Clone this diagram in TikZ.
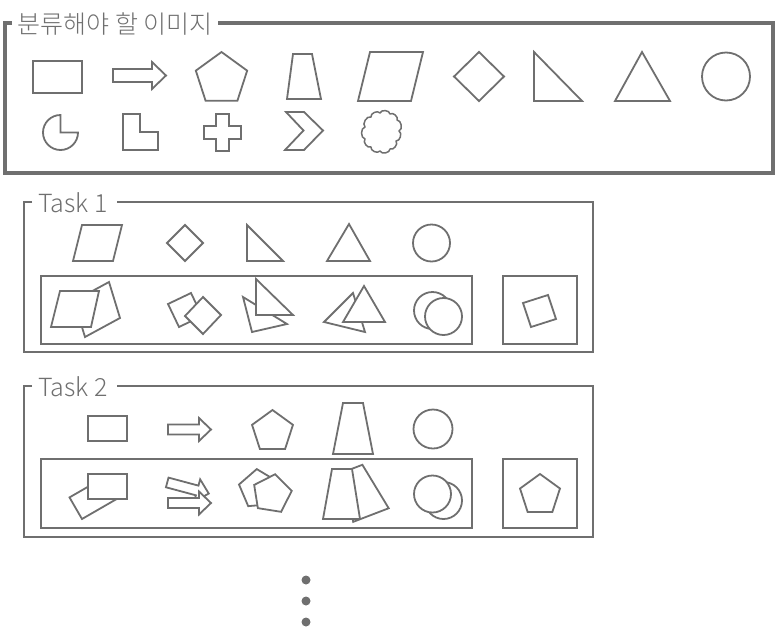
\documentclass[tikz,border=0pt]{standalone}
\usepackage{fontspec}
\setmainfont{Noto Sans CJK KR Light}
\usetikzlibrary{shapes.geometric}
\definecolor{lc}{HTML}{6F6F6F}
\begin{document}
\begin{tikzpicture}[x=1pt,y=-1pt,line join=miter,
  shp/.style={draw=lc,line width=1.8pt,fill=white},
  bigframe/.style={draw=lc,line width=3.4pt},
  taskframe/.style={draw=lc,line width=2pt},
  innerbox/.style={draw=lc,line width=2pt},
  lbl/.style={text=lc,inner sep=0pt,font=\fontsize{25}{30}\selectfont},
  pics/pent/.style={code={\draw[shp] (90:#1pt) -- (18:#1pt) -- (-54:#1pt) -- (-126:#1pt) -- (162:#1pt) -- cycle;}},
  pics/arrowshape/.style={code={\draw[shp] (-21.5,-5) -- (9.5,-5) -- (9.5,-11.5) -- (21.5,0) -- (9.5,11.5) -- (9.5,5) -- (-21.5,5) -- cycle;}},
  pics/trap/.style={code={\draw[shp] (-10,-25) -- (10,-25) -- (19,25) -- (-19,25) -- cycle;}}]
\useasboundingbox (0,0) rectangle (776,627);

% ---------- main frame ----------
\draw[bigframe] (12,23) -- (5,23) -- (5,173) -- (773,173) -- (773,23) -- (218,23);
\node[lbl,anchor=west] (lab0) at (17.5,24) {분류해야 할 이미지};

% row 1
\draw[shp] (33,61) rectangle (82,93);
\draw[shp] (113,69) -- (152,69) -- (152,62) -- (166,75.5) -- (152,89) -- (152,82) -- (113,82) -- cycle;
\pic at (221.5,79) {pent=27};
\draw[shp] (293,54) -- (312,54) -- (321,99) -- (287,99) -- cycle;
\draw[shp] (370,52) -- (423,52) -- (411,101) -- (358,101) -- cycle;
\draw[shp] (479,52) -- (504,76.5) -- (479,101) -- (454,76.5) -- cycle;
\draw[shp] (534,52) -- (534,101) -- (582,101) -- cycle;
\draw[shp] (642,52) -- (670,101) -- (615,101) -- cycle;
\draw[shp] (726,76.5) circle[radius=24pt];

% row 2
\draw[shp] (60.5,132.5) -- ++(17.5,0) arc[start angle=0,end angle=-270,radius=17.5pt] -- cycle;
\draw[shp] (123,114) -- (140,114) -- (140,132) -- (158,132) -- (158,150) -- (123,150) -- cycle;
\draw[shp] (216,114) -- (229,114) -- (229,126) -- (241,126) -- (241,139) -- (229,139) -- (229,151) -- (216,151) -- (216,139) -- (204,139) -- (204,126) -- (216,126) -- cycle;
\draw[shp] (286,112) -- (304,112) -- (323,130.5) -- (304,150) -- (285,150) -- (303.5,130.5) -- cycle;
% cloud
\draw[shp,line width=1.5pt,line join=round] (380,113) to[bend left=80] (390,114) to[bend left=80] (397,120)
  to[bend left=80] (399,131) to[bend left=80] (396,141) to[bend left=80] (390,149)
  to[bend left=80] (380,151) to[bend left=80] (371,147) to[bend left=80] (365,139)
  to[bend left=80] (365,127) to[bend left=80] (371,117) to[bend left=80] cycle;

% ---------- Task 1 ----------
\draw[taskframe] (32,202) -- (24,202) -- (24,352) -- (593,352) -- (593,202) -- (117,202);
\node[lbl,anchor=base west] (t1) at (38,212.5) {Task 1};

\draw[shp] (82,225) -- (122,225) -- (113,261) -- (73,261) -- cycle;
\draw[shp] (185,225) -- (203,243) -- (185,261) -- (167,243) -- cycle;
\draw[shp] (247,225) -- (247,261) -- (283,261) -- cycle;
\draw[shp] (349,224) -- (370,261) -- (327,261) -- cycle;
\draw[shp] (431.5,243) circle[radius=18.5pt];

\draw[innerbox] (41,276) rectangle (472,344);
\draw[innerbox] (503,276) rectangle (577,344);

\draw[shp] (109,282) -- (120,318) -- (85,337) -- (74,301) -- cycle;
\draw[shp] (60,291) -- (99,291) -- (91,327) -- (51,327) -- cycle;
\draw[shp] (168,304) -- (191,293) -- (202,316) -- (179,327) -- cycle;
\draw[shp] (203,297) -- (221,315) -- (203,334) -- (185,316) -- cycle;
\draw[shp] (243,297) -- (252,332) -- (287,324) -- cycle;
\draw[shp] (256,279) -- (256,315) -- (293,315) -- cycle;
\draw[shp] (353,293) -- (324,322) -- (365,332) -- cycle;
\draw[shp] (364,286) -- (385,322) -- (343,322) -- cycle;
\draw[shp] (432.5,310.5) circle[radius=18.5pt];
\draw[shp] (443.5,316.5) circle[radius=18.5pt];

\draw[shp] (523,303) -- (548,295) -- (556,319) -- (531,327) -- cycle;

% ---------- Task 2 ----------
\draw[taskframe] (32,386) -- (24,386) -- (24,537) -- (593,537) -- (593,386) -- (117,386);
\node[lbl,anchor=base west] (t2) at (38,396.5) {Task 2};

\draw[shp] (88,416) rectangle (127,441);
\pic at (189.5,429.5) {arrowshape};
\pic at (272.5,431.5) {pent=21.5};
\draw[shp] (343,403) -- (363,403) -- (373,454) -- (333,454) -- cycle;
\draw[shp] (433,429) circle[radius=19.5pt];

\draw[innerbox] (41,459) rectangle (472,528);
\draw[innerbox] (503,459) rectangle (577,528);

\draw[shp] (82,519) -- (115.8,499.5) -- (103.3,477.9) -- (69.5,497.4) -- cycle;
\draw[shp] (88,474) rectangle (127,499);
\pic[rotate=-15] at (188,488) {arrowshape};
\pic at (189.5,503) {arrowshape};
\pic[rotate=5] at (258.5,489) {pent=20};
\pic[rotate=-9] at (272,494) {pent=20};
\pic[rotate=21] at (362,491.7) {trap};
\draw[shp] (332,469) -- (352,469) -- (360,519) -- (323,519) -- cycle;
\draw[shp] (443.5,500.5) circle[radius=18.5pt];
\draw[shp] (432.5,494) circle[radius=18.5pt];

\pic at (540,495) {pent=21};

% ---------- dots ----------
\fill[lc] (306,580) circle[radius=4.5pt];
\fill[lc] (306,601) circle[radius=4.5pt];
\fill[lc] (306,622) circle[radius=4.5pt];
\end{tikzpicture}
\end{document}
